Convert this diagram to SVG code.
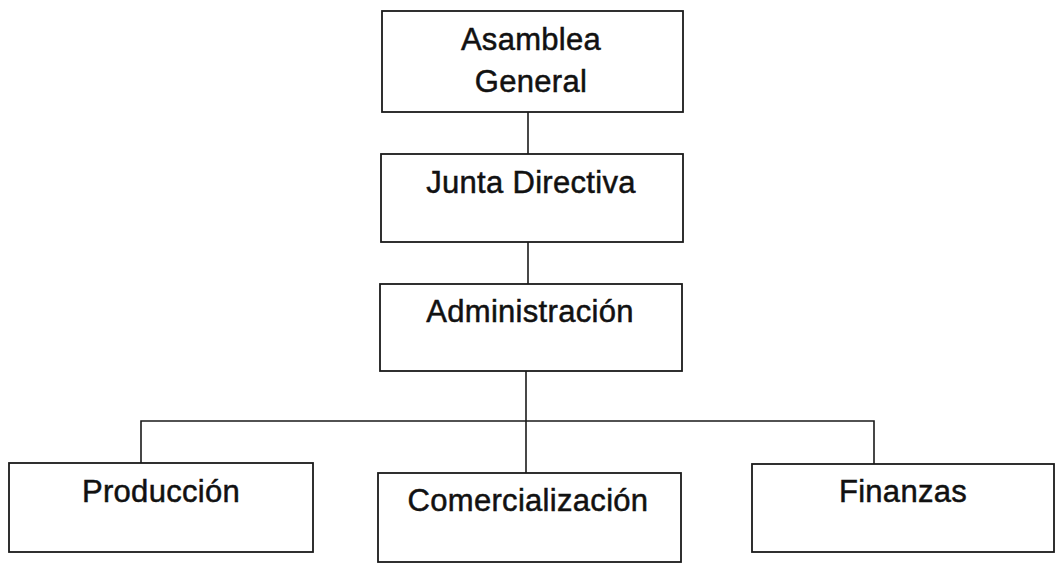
<svg xmlns="http://www.w3.org/2000/svg" width="1060" height="571" viewBox="0 0 1060 571">
<style>
.box{fill:#fff;stroke:#1a1a1a;stroke-width:1.8}
.lbl{font-family:"Liberation Sans",Arial,sans-serif;font-size:31px;fill:#111;stroke:#111;stroke-width:0.5;letter-spacing:0.3px;text-anchor:middle}
.con{fill:none;stroke:#1a1a1a;stroke-width:1.6}
</style>
<rect width="1060" height="571" fill="#fff"/>
<g id="connectors">
<line class="con" x1="528" y1="112" x2="528" y2="154"/>
<line class="con" x1="528" y1="242" x2="528" y2="284"/>
<line class="con" x1="526" y1="371" x2="526" y2="473"/>
<polyline class="con" points="141,463 141,421 874,421 874,464"/>
</g>
<g id="asamblea">
<rect class="box" x="382" y="11" width="301" height="101"/>
<text class="lbl" x="531" y="50">Asamblea</text>
<text class="lbl" x="531" y="92">General</text>
</g>
<g id="junta">
<rect class="box" x="381" y="154" width="302" height="88"/>
<text class="lbl" x="531" y="193">Junta Directiva</text>
</g>
<g id="administracion">
<rect class="box" x="380" y="284" width="302" height="87"/>
<text class="lbl" x="530" y="322">Administración</text>
</g>
<g id="produccion">
<rect class="box" x="9" y="463" width="304" height="89"/>
<text class="lbl" x="161" y="502">Producción</text>
</g>
<g id="comercializacion">
<rect class="box" x="378" y="473" width="303" height="89"/>
<text class="lbl" x="528" y="511">Comercialización</text>
</g>
<g id="finanzas">
<rect class="box" x="752" y="464" width="302" height="88"/>
<text class="lbl" x="903" y="502">Finanzas</text>
</g>
</svg>
